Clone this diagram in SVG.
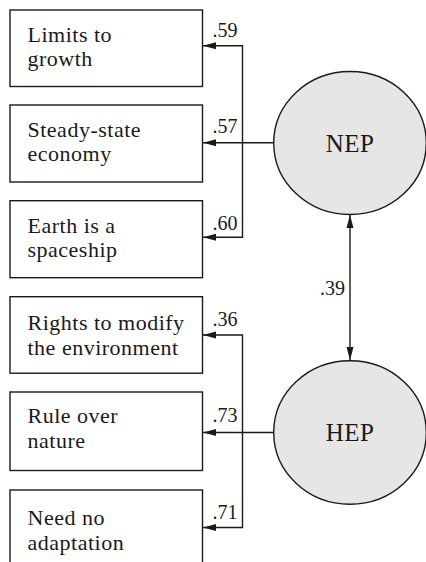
<svg xmlns="http://www.w3.org/2000/svg" width="426" height="562" viewBox="0 0 426 562">
<style>
.box{fill:#fff;stroke:#1a1a1a;stroke-width:1.4}
.lat{fill:#e6e6e6;stroke:#1a1a1a;stroke-width:1.4}
.t{font-family:'Liberation Serif','Times New Roman','DejaVu Serif',serif;font-size:22px;letter-spacing:0.5px;fill:#1a1a1a}
.lt{font-family:'Liberation Serif','Times New Roman','DejaVu Serif',serif;font-size:25px;letter-spacing:0.5px;fill:#1a1a1a;text-anchor:middle}
.lab{font-family:'Liberation Serif','Times New Roman','DejaVu Serif',serif;font-size:20px;fill:#1a1a1a}
.c{fill:none;stroke:#1a1a1a;stroke-width:1.4}
</style>
<defs>
<marker id="ah" markerUnits="userSpaceOnUse" markerWidth="14" markerHeight="8" refX="13" refY="4" orient="auto-start-reverse" viewBox="0 0 14 8">
<path d="M0,0.5 L13,4 L0,7.5 Z" fill="#1a1a1a"/>
</marker>
</defs>
<rect width="426" height="562" fill="#fff"/>
<g id="connectors">
<path class="c" d="M273.5,142.7 H203" marker-end="url(#ah)"/>
<path class="c" d="M242.5,142.7 V45.7 H203" marker-end="url(#ah)"/>
<path class="c" d="M242.5,142.7 V237.3 H203" marker-end="url(#ah)"/>
<path class="c" d="M273.5,432.5 H203" marker-end="url(#ah)"/>
<path class="c" d="M242.5,432.5 V335 H203" marker-end="url(#ah)"/>
<path class="c" d="M242.5,432.5 V527.5 H203" marker-end="url(#ah)"/>
<path class="c" d="M350,215 V360" marker-start="url(#ah)" marker-end="url(#ah)"/>
<text class="lab" x="212.5" y="36.5">.59</text>
<text class="lab" x="212.5" y="133">.57</text>
<text class="lab" x="212.5" y="229.5">.60</text>
<text class="lab" x="212.5" y="326">.36</text>
<text class="lab" x="212.5" y="422">.73</text>
<text class="lab" x="212.5" y="518.5">.71</text>
<text class="lab" x="320" y="295">.39</text>
</g>
<g id="box1"><rect class="box" x="10" y="10" width="192.5" height="76.5"/><text class="t" x="27.5" y="42">Limits to</text><text class="t" x="27.5" y="66">growth</text></g>
<g id="box2"><rect class="box" x="10" y="105" width="192.5" height="77"/><text class="t" x="27.5" y="136.5">Steady-state</text><text class="t" x="27.5" y="161">economy</text></g>
<g id="box3"><rect class="box" x="10" y="200.7" width="192.5" height="77"/><text class="t" x="27.5" y="232.5">Earth is a</text><text class="t" x="27.5" y="257">spaceship</text></g>
<g id="box4"><rect class="box" x="10" y="296.7" width="192.5" height="76.5"/><text class="t" x="27.5" y="330">Rights to modify</text><text class="t" x="27.5" y="354.5">the environment</text></g>
<g id="box5"><rect class="box" x="10" y="392" width="192.5" height="78.5"/><text class="t" x="27.5" y="423">Rule over</text><text class="t" x="27.5" y="448">nature</text></g>
<g id="box6"><rect class="box" x="10" y="490" width="192.5" height="90"/><text class="t" x="27.5" y="524.5">Need no</text><text class="t" x="27.5" y="550">adaptation</text></g>
<g id="NEP"><ellipse class="lat" cx="350" cy="143" rx="76.3" ry="71.5"/><text class="lt" x="350" y="151.5">NEP</text></g>
<g id="HEP"><ellipse class="lat" cx="350" cy="432.5" rx="76.3" ry="71.7"/><text class="lt" x="350" y="441">HEP</text></g>
</svg>
